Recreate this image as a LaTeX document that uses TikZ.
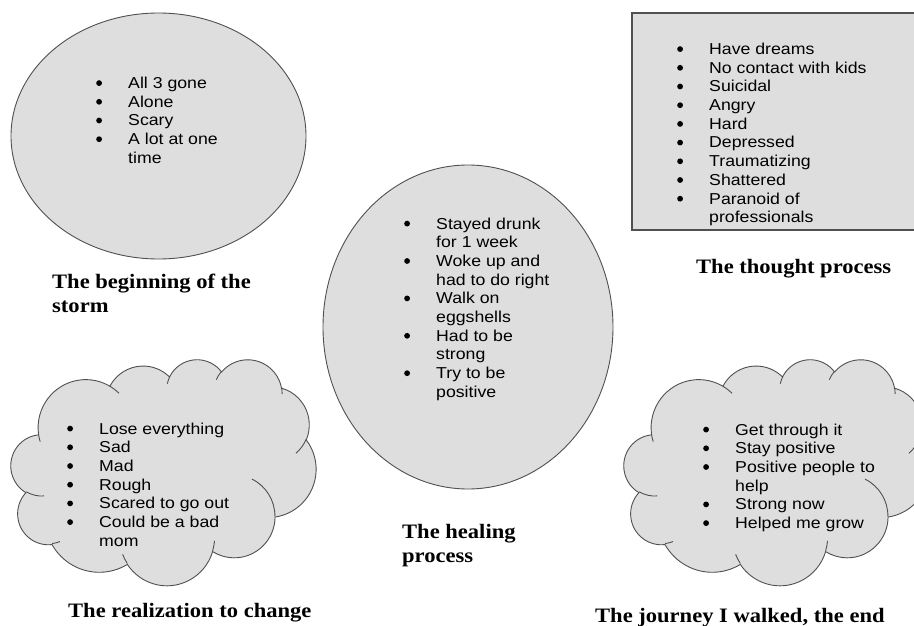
\documentclass[tikz,border=0pt]{standalone}
\usepackage{fontspec}
\setmainfont{Liberation Sans}
\newfontfamily\bodyfont[FakeStretch=1.12]{Liberation Sans}
\newfontfamily\labelfont[FakeStretch=1.1]{Liberation Serif}
\definecolor{shapefill}{RGB}{222,222,222}
\definecolor{shapeline}{RGB}{80,80,80}
% OOXML-style arcTo: wR, hR, start angle, sweep angle (visual angles, degrees)
\newcommand\ooarc[4]{arc[x radius=#1,y radius=#2,start angle={atan2((#1)*sin(#3),(#2)*cos(#3))},delta angle={mod(atan2((#1)*sin((#3)+(#4)),(#2)*cos((#3)+(#4)))-atan2((#1)*sin(#3),(#2)*cos(#3))+720,360)}]}
\newcommand\cloudbody{(3.900,14.370)
 \ooarc{6.753}{9.190}{-190.4875}{123.7805}
 \ooarc{5.333}{7.267}{-144.1024}{89.9452}
 \ooarc{4.365}{5.945}{-145.8079}{99.7230}
 \ooarc{4.857}{6.595}{-130.9861}{117.2417}
 \ooarc{5.333}{7.273}{-78.7089}{109.0269}
 \ooarc{6.775}{9.220}{-46.2673}{130.2690}
 \ooarc{5.785}{7.867}{0.6250}{114.0333}
 \ooarc{6.752}{9.215}{22.4516}{115.1726}
 \ooarc{7.720}{10.543}{66.2426}{75.7110}
 \ooarc{4.360}{5.918}{-274.9421}{146.7356}
 \ooarc{4.345}{5.945}{-246.8285}{152.5189}
 -- cycle}
\newcommand\cloudinner{(4.693,26.177) \ooarc{4.345}{5.945}{86.7420}{26.4295}
 (6.928,34.899) \ooarc{4.360}{5.918}{73.6105}{11.4475}
 (16.478,39.090) \ooarc{6.752}{9.215}{137.6242}{14.0811}
 (28.827,34.751) \ooarc{6.752}{9.215}{6.4533}{15.9984}
 (34.129,22.954) \ooarc{5.785}{7.867}{-70.2924}{70.9174}
 (41.798,15.354) \ooarc{5.333}{7.273}{30.3180}{27.7515}
 (38.324,5.426) \ooarc{4.857}{6.595}{-13.7443}{14.8589}
 (29.078,3.952) \ooarc{4.857}{6.595}{-149.1815}{18.1954}
 (22.141,4.720) \ooarc{4.365}{5.945}{-163.4943}{17.6864}
 (14.000,5.192) \ooarc{6.753}{9.190}{-66.7070}{12.3194}
 (4.127,15.789) \ooarc{6.753}{9.190}{157.6544}{11.8582}}
\tikzset{
  shapebox/.style={fill=shapefill,draw=shapeline,line width=0.9pt},
  innerline/.style={draw=shapeline,line width=0.9pt},
  bodytext/.style={inner sep=0pt,anchor=base west,font=\bodyfont\fontsize{15.8}{18.7}\selectfont},
  labeltext/.style={inner sep=0pt,anchor=base west,font=\labelfont\bfseries\fontsize{20.5}{24}\selectfont}
}
\newcommand\bdot{\tikz[baseline=-5.4pt]\fill[black] (0pt,0pt) circle[radius=2.9pt];}
\newcommand\blist[1]{\begin{tabular}[t]{@{}p{32pt}@{}l@{}}#1\end{tabular}}
\begin{document}
\begin{tikzpicture}[x=1pt,y=-1pt]
\fill[white] (0,0) rectangle (914,626);
\useasboundingbox (0,0) rectangle (914,626);
% shapes
\draw[shapebox] (158.5,136) ellipse [x radius=147.5, y radius=123];
\draw[shapebox] (468,327) ellipse [x radius=145, y radius=162];
\fill[shapefill] (632,13) rectangle (916,230);
\draw[shapeline,line width=1.2pt] (916,13) -- (632,13) -- (632,230) -- (916,230);
\begin{scope}[shift={(11,359)},x=7.0602pt,y=-5.2315pt]
  \filldraw[shapebox] \cloudbody;
  \draw[innerline] \cloudinner;
\end{scope}
\begin{scope}[shift={(624,359)},x=7.0602pt,y=-5.2315pt]
  \filldraw[shapebox] \cloudbody;
  \draw[innerline] \cloudinner;
\end{scope}
% lists
\node[bodytext] (storm) at (96,88.5) {\blist{\bdot & All 3 gone\\ \bdot & Alone\\ \bdot & Scary\\ \bdot & A lot at one\\ & time}};
\node[bodytext] (healing) at (404,229) {\blist{\bdot & Stayed drunk\\ & for 1 week\\ \bdot & Woke up and\\ & had to do right\\ \bdot & Walk on\\ & eggshells\\ \bdot & Had to be\\ & strong\\ \bdot & Try to be\\ & positive}};
\node[bodytext] (thought) at (677,54.5) {\blist{\bdot & Have dreams\\ \bdot & No contact with kids\\ \bdot & Suicidal\\ \bdot & Angry\\ \bdot & Hard\\ \bdot & Depressed\\ \bdot & Traumatizing\\ \bdot & Shattered\\ \bdot & Paranoid of\\ & professionals}};
\node[bodytext] (change) at (67,434) {\blist{\bdot & Lose everything\\ \bdot & Sad\\ \bdot & Mad\\ \bdot & Rough\\ \bdot & Scared to go out\\ \bdot & Could be a bad\\ & mom}};
\node[bodytext] (journey) at (703,435) {\blist{\bdot & Get through it\\ \bdot & Stay positive\\ \bdot & Positive people to\\ & help\\ \bdot & Strong now\\ \bdot & Helped me grow}};
% labels
\node[labeltext] (l1) at (52,288) {\begin{tabular}[t]{@{}l@{}}The beginning of the\\ storm\end{tabular}};
\node[labeltext] (l2) at (402,538) {\begin{tabular}[t]{@{}l@{}}The healing\\ process\end{tabular}};
\node[labeltext] (l3) at (696,273) {The thought process};
\node[labeltext] (l4) at (68,617) {The realization to change};
\node[labeltext] (l5) at (595,622) {The journey I walked, the end};
\end{tikzpicture}
\end{document}
